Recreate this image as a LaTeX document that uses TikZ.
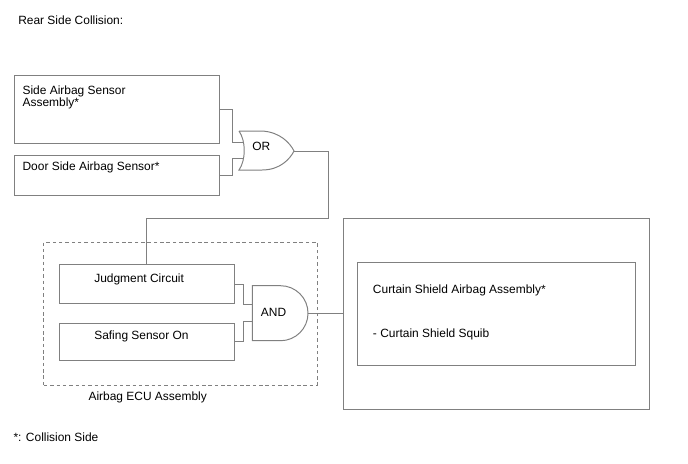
\documentclass[tikz,border=0pt]{standalone}
\usepackage{fontspec}
\setmainfont{Liberation Sans}

\begin{document}
\begin{tikzpicture}[x=0.025cm, y=-0.025cm,
	font=\fontsize{8.5}{8.5}\selectfont,
	box/.style={draw=gray, line width=0.7pt, inner sep=0pt},
	wire/.style={draw=gray, line width=0.7pt},
	txt/.style={anchor=base west, inner sep=0pt}]
	\useasboundingbox (0,0) rectangle (688,463);
	% title and footnote
	\node[txt] (title) at (18,24.5) {Rear Side Collision:};
	\node[txt] (note) at (13.3,441) {*: Collision Side};
	% sensor boxes
	\node[box, minimum width=5.12cm, minimum height=1.69cm] (sab) at (117.1,109.75) {};
	\node[anchor=north west, inner sep=0pt, align=left] (sabtxt) at (22.3,86) {Side Airbag Sensor\\Assembly*};
	\node[box, minimum width=5.12cm, minimum height=1.0cm] (dsab) at (117.1,175) {};
	\node[txt] (dsabtxt) at (22.3,170) {Door Side Airbag Sensor*};
	% OR gate
	\draw[wire] (239,131) -- (262,131) .. controls (280,132) and (290,143) .. (294,151)
		.. controls (290,159) and (280,170) .. (262,170) -- (239,170)
		.. controls (246,160) and (246,141) .. (239,131);
	\coordinate (orin1) at (242.5,142);
	\coordinate (orin2) at (242.5,158);
	\coordinate (orout) at (294,151);
	\node[txt] (orlbl) at (252,150.7) {OR};
	\draw[wire] (sab.east) -- ++(12.5,0) |- (orin1);
	\draw[wire] (dsab.east) -- ++(12.5,0) |- (orin2);
	% airbag ECU
	\node[draw=gray, line width=0.7pt, dash pattern=on 2.5pt off 2pt, minimum width=6.825cm, minimum height=3.575cm, inner sep=0pt] (ecu) at (180.5,313.5) {};
	\node[txt] (ecutxt) at (88.3,400) {Airbag ECU Assembly};
	\node[box, minimum width=4.37cm, minimum height=0.96cm] (judge) at (146.65,284.15) {};
	\node[txt] (judgetxt) at (94,282) {Judgment Circuit};
	\node[box, minimum width=4.37cm, minimum height=0.93cm] (safing) at (146.65,341.9) {};
	\node[txt] (safingtxt) at (94,339) {Safing Sensor On};
	\coordinate (bend) at (328,218);
	\draw[wire] (orout) -| (bend) -| (judge.north);
	% AND gate
	\draw[wire] (252.3,285.7) -- (280.5,285.7) arc[start angle=90, end angle=-90, radius=0.6875cm] -- (252.3,340.7) -- cycle;
	\coordinate (andin1) at (252.3,304);
	\coordinate (andin2) at (252.3,321.7);
	\coordinate (andout) at (308,313.2);
	\node[txt] (andlbl) at (260.7,316.7) {AND};
	\draw[wire] (judge.east) -- ++(9.3,0) |- (andin1);
	\draw[wire] (safing.east) -- ++(9.3,0) |- (andin2);
	% curtain shield airbag
	\node[box, minimum width=7.625cm, minimum height=4.75cm] (csa) at (496.5,314) {};
	\node[box, minimum width=6.96cm, minimum height=2.5675cm] (squib) at (496.5,313.65) {};
	\node[txt] (csatxt) at (372.7,293.5) {Curtain Shield Airbag Assembly*};
	\node[txt] (squibtxt) at (372.7,337) {- Curtain Shield Squib};
	\draw[wire] (andout) -- (andout -| csa.west);
\end{tikzpicture}
\end{document}
